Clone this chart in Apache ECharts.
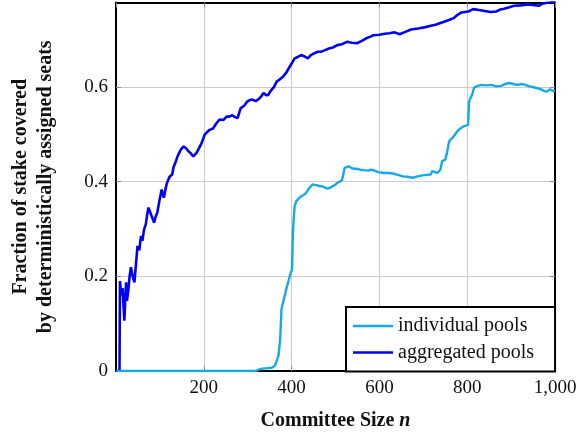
<!DOCTYPE html>
<html>
<head>
<meta charset="utf-8">
<script src="https://cdn.jsdelivr.net/npm/echarts@6/dist/echarts.min.js"></script>
<style>html,body{margin:0;padding:0;background:#fff}#c{width:587px;height:436px}</style>
</head>
<body>
<div id="c"></div>
<script>
const seriesNames = ['individual pools', 'aggregated pools'];
const xTicks = [200, 400, 600, 800, 1000];
const yTicks = [0, 0.2, 0.4, 0.6];

const individualX = [1,318,325,333,345,355,362,366,370,374,377,382,388,393,396,401,403,405,407,411,416,422,428,433,437,441,448,453,459,465,470,476,482,488,493,499,504,510,515,519,521,525,530,536,541,548,556,565,575,580,586,592,597,603,609,620,631,642,653,664,676,687,698,707,717,720,722,727,732,736,739,741,743,750,754,756,759,764,769,775,780,784,791,797,802,804,806,810,812,814,817,824,832,843,855,866,877,887,896,905,914,924,933,942,951,960,970,976,981,985,989,995,1000];
const individualY = [0,0,0.003,0.005,0.006,0.007,0.011,0.015,0.032,0.067,0.131,0.15,0.173,0.19,0.201,0.215,0.292,0.324,0.348,0.359,0.364,0.369,0.372,0.376,0.382,0.387,0.394,0.393,0.392,0.39,0.39,0.387,0.385,0.387,0.39,0.393,0.397,0.4,0.403,0.404,0.429,0.431,0.432,0.429,0.427,0.427,0.425,0.424,0.423,0.425,0.424,0.422,0.42,0.419,0.418,0.418,0.417,0.414,0.411,0.41,0.408,0.411,0.413,0.414,0.415,0.422,0.425,0.42,0.418,0.421,0.425,0.435,0.443,0.446,0.46,0.471,0.485,0.49,0.495,0.503,0.509,0.513,0.516,0.518,0.52,0.566,0.573,0.576,0.585,0.594,0.599,0.602,0.604,0.603,0.604,0.601,0.602,0.606,0.608,0.606,0.604,0.606,0.604,0.601,0.599,0.597,0.594,0.591,0.59,0.594,0.595,0.591,0.592];

const aggregatedX = [1,8,9,12,15,19,21,23,25,28,31,34,38,42,45,49,53,57,60,64,68,71,74,80,87,90,94,99,104,109,113,116,122,128,131,135,139,142,148,154,160,165,170,176,183,189,195,202,208,213,221,228,236,245,252,258,265,271,277,284,292,299,305,310,318,325,331,336,342,347,351,355,360,366,372,381,388,396,402,407,414,422,430,437,444,452,460,467,475,485,494,504,515,526,537,549,560,571,580,586,600,612,623,635,646,659,672,688,705,717,728,737,746,758,769,778,787,802,814,827,840,853,866,875,884,896,907,922,937,950,963,970,978,988,996,1000];
const aggregatedY = [0,0,0.19,0.16,0.175,0.106,0.15,0.187,0.148,0.17,0.2,0.219,0.2,0.187,0.22,0.264,0.255,0.285,0.275,0.299,0.31,0.33,0.345,0.33,0.313,0.325,0.334,0.36,0.383,0.366,0.385,0.397,0.41,0.415,0.43,0.439,0.45,0.457,0.468,0.474,0.47,0.464,0.46,0.453,0.46,0.47,0.481,0.499,0.505,0.509,0.512,0.522,0.531,0.53,0.537,0.537,0.54,0.536,0.534,0.555,0.56,0.569,0.572,0.573,0.57,0.574,0.58,0.587,0.582,0.583,0.59,0.594,0.6,0.611,0.615,0.622,0.63,0.643,0.652,0.66,0.663,0.667,0.664,0.66,0.667,0.671,0.674,0.674,0.677,0.681,0.683,0.688,0.69,0.695,0.693,0.692,0.697,0.703,0.706,0.709,0.71,0.712,0.713,0.715,0.711,0.716,0.721,0.723,0.726,0.729,0.731,0.734,0.737,0.741,0.745,0.752,0.757,0.759,0.764,0.762,0.76,0.758,0.759,0.763,0.765,0.768,0.771,0.772,0.774,0.773,0.771,0.775,0.777,0.778,0.78,0.779];

const FONT = '"Liberation Serif", "DejaVu Serif", serif';
const zip = (xs, ys) => xs.map((x, i) => [x, ys[i]]);
const frameLine = {show: true, onZero: false, lineStyle: {color: '#000', width: 2}};
const tick = {show: true, inside: true, length: 5, lineStyle: {color: '#888'}};

const chart = echarts.init(document.getElementById('c'), null, {renderer: 'canvas'});
chart.setOption({
  animation: false,
  backgroundColor: '#fff',
  grid: {left: 108, right: 32, top: 2.5, bottom: 64, containLabel: false},
  xAxis: [{
    type: 'value', min: 0, max: 1000, interval: 200, position: 'bottom',
    axisLine: frameLine, axisTick: tick,
    splitLine: {show: true, lineStyle: {color: '#cccccc', width: 1}},
    axisLabel: {
      margin: 8, color: '#111', fontFamily: FONT, fontSize: 19, showMinLabel: false,
      formatter: v => xTicks.includes(v) ? (v >= 1000 ? v.toLocaleString('en-US') : String(v)) : ''
    },
    name: 'Committee Size {i|n}', nameLocation: 'middle', nameGap: 40,
    nameTextStyle: {fontFamily: FONT, fontSize: 20, fontWeight: 'bold', color: '#111',
      rich: {i: {fontFamily: FONT, fontSize: 20, fontWeight: 'bold', fontStyle: 'italic', color: '#111'}}}
  }, {
    type: 'value', min: 0, max: 1000, interval: 200, position: 'top',
    axisLine: frameLine, axisTick: tick, splitLine: {show: false}, axisLabel: {show: false}
  }],
  yAxis: [{
    type: 'value', min: 0, max: 0.778, interval: 0.2, position: 'left',
    axisLine: frameLine, axisTick: tick,
    splitLine: {show: true, lineStyle: {color: '#cccccc', width: 1}},
    axisLabel: {
      margin: 8, color: '#111', fontFamily: FONT, fontSize: 19, showMaxLabel: false,
      formatter: v => {
        const t = yTicks.find(k => Math.abs(k - v) < 1e-6);
        return t === undefined ? '' : (t === 0 ? '0' : t.toFixed(1));
      }
    },
    name: 'Fraction of stake covered\nby deterministically assigned seats',
    nameLocation: 'middle', nameGap: 58, nameRotate: 90,
    nameTextStyle: {fontFamily: FONT, fontSize: 20, fontWeight: 'bold', color: '#111', lineHeight: 25, align: 'center'}
  }, {
    type: 'value', min: 0, max: 0.778, interval: 0.2, position: 'right',
    axisLine: frameLine, axisTick: tick, splitLine: {show: false}, axisLabel: {show: false}
  }],
  legend: {
    orient: 'vertical', left: 346, top: 307, z: 10,
    padding: [9, 21, 9, 7], itemGap: 6.5,
    itemWidth: 40, itemHeight: 2.5, icon: 'rect',
    borderColor: '#000', borderWidth: 2, backgroundColor: '#fff', borderRadius: 0,
    textStyle: {fontFamily: FONT, fontSize: 20, color: '#111'},
    data: seriesNames
  },
  series: [
    {name: seriesNames[0], type: 'line', data: zip(individualX, individualY), symbol: 'none', z: 3,
     lineStyle: {color: '#14aae6', width: 2.4}, itemStyle: {color: '#14aae6'}},
    {name: seriesNames[1], type: 'line', data: zip(aggregatedX, aggregatedY), symbol: 'none', z: 2,
     lineStyle: {color: '#0000f5', width: 2.6}, itemStyle: {color: '#0000f5'}}
  ]
});
</script>
</body>
</html>
